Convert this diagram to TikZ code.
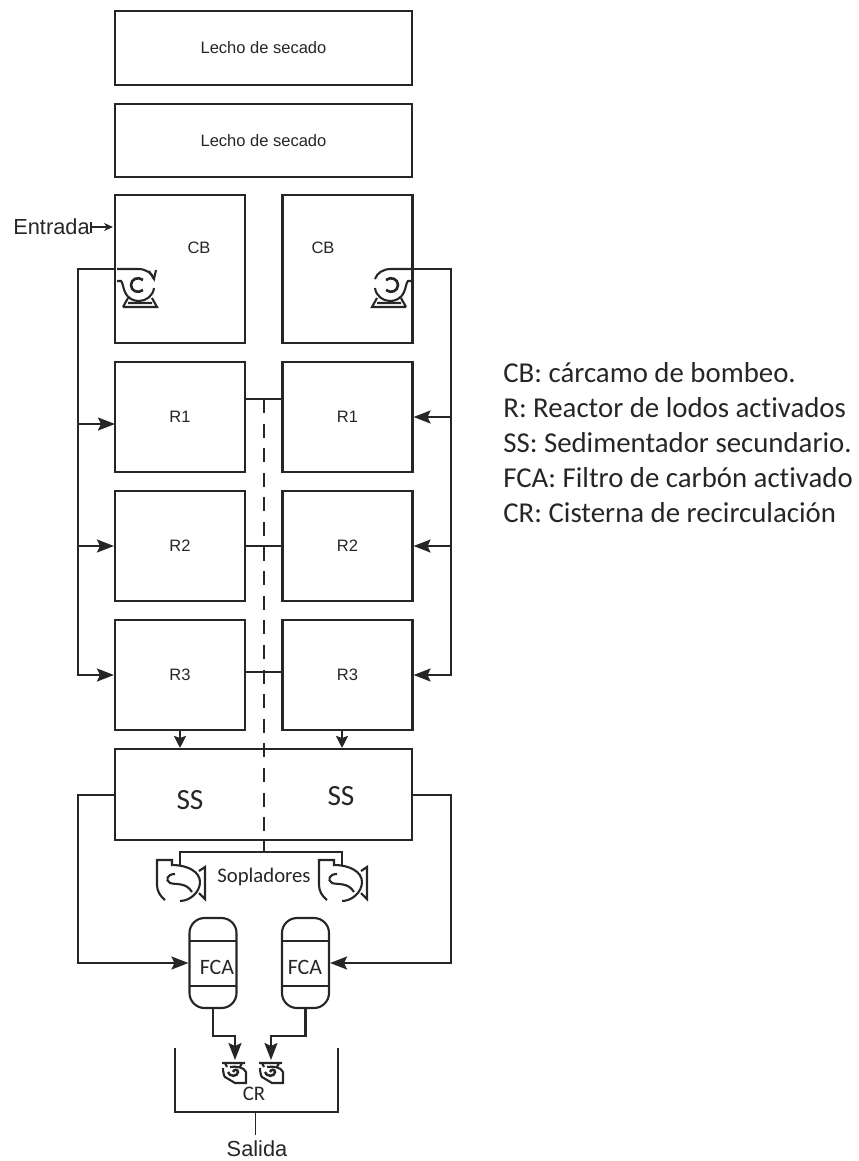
\documentclass[tikz,border=0pt]{standalone}
\usepackage{fontspec}
\setmainfont{Liberation Sans}
\newfontfamily\calibri[Ligatures=NoCommon]{Carlito}
\usetikzlibrary{arrows.meta}

\begin{document}
\begin{tikzpicture}[x=0.02cm, y=-0.02cm, >={Stealth[length=3.4mm,width=2.6mm,inset=0.6mm]},
    font=\fontsize{9.4}{11}\selectfont, color=black!85,
    wide/.style={draw, line width=1.2pt, minimum width=5.94cm, minimum height=1.47cm, inner sep=0pt},
    tank/.style={draw, line width=1.2pt, minimum width=2.6cm, minimum height=2.2cm, inner sep=0pt},
    filtro/.style={draw, line width=1.2pt, rounded corners=0.3cm, minimum width=0.94cm,
                   minimum height=1.8cm, inner sep=0pt},
    pipe/.style={line width=1.2pt},
    big/.style={font=\fontsize{12.4}{14}\selectfont},
    cal/.style={font=\calibri\fontsize{11.8}{14}\selectfont},
    calbig/.style={font=\calibri\fontsize{16.7}{18}\selectfont},
    calfca/.style={font=\calibri\fontsize{12.5}{14}\selectfont},
    legend/.style={anchor=base west, inner sep=0pt, font=\calibri\fontsize{16.4}{18}\selectfont},
    bomba/.pic={
      \draw[pipe] (-21,-16) -- (0,-16) .. controls (8,-16) and (14,-12) .. (16,-6);
      \draw[pipe] (-21,-4) -- (-17,-4) .. controls (-15,-2) and (-15,3) .. (-13,7)
                  .. controls (-10,14) and (-4,16) .. (1,16) .. controls (8,16) and (15,11) .. (16,3);
      \draw[line width=1.5pt] (5,-5) .. controls (0,-9) and (-7,-6) .. (-7,0) .. controls (-7,6) and (0,9) .. (5,5);
      \draw[pipe] (-15,22) -- (19,22) -- (14,13) (-15,22) -- (-10,13) (-10,18) -- (14,18);
    },
    soplador/.pic={
      \draw[pipe] (-15,18) .. controls (-20,14) and (-23,9) .. (-23,3) -- (-23,-22) -- (-8,-22) -- (-8,-17)
                  .. controls (8,-17) and (20,-10) .. (20,0) .. controls (20,10) and (10,19) .. (0,19);
      \draw[pipe] (-5,-8) .. controls (-13,-8) and (-15,-2) .. (-10,1) .. controls (-4,3) and (6,0) .. (12,10);
      \draw[pipe] (19,-11) -- (25,-15) -- (25,17) -- (19,11);
    },
    bombita/.pic={
      \draw[pipe] (-11,-9) -- (12,-9) (-8,-9) -- (-6,-5) (9,-9) -- (7,-5);
      \draw[pipe] (-10,-4) .. controls (-10,0) and (-9,4) .. (-8,5) -- (2,11) -- (13,11) -- (13,0)
                  .. controls (11,-5) and (3,-6) .. (-3,-5);
      \draw[line width=1.4pt] (-5,0) .. controls (-4,5) and (5,5) .. (5,0) .. controls (5,-3) and (1,-3) .. (0,0);
    }]
  \useasboundingbox (0,0) rectangle (859,1161);

  \node[wide] (lecho1) at (263.5,48)  {Lecho de secado};
  \node[wide] (lecho2) at (263.5,140.5) {Lecho de secado};

  \node[tank, minimum height=2.96cm] (CBl) at (180,269) {};
  \node[tank, minimum height=2.96cm] (CBr) at (347.5,269) {};
  \node[tank] (R1l) at (180,417) {R1};
  \node[tank] (R1r) at (347.5,417) {R1};
  \node[tank] (R2l) at (180,546) {R2};
  \node[tank] (R2r) at (347.5,546) {R2};
  \node[tank] (R3l) at (180,675) {R3};
  \node[tank] (R3r) at (347.5,675) {R3};
  \node[wide, minimum height=1.82cm] (SSbox) at (263.5,794.5) {};

  \node at (199,248) {CB};
  \node at (323,248) {CB};
  \node[calbig] at (190,800) {SS};
  \node[calbig] at (341,796) {SS};

  \node[big] (entrada) at (51.5,227) {Entrada};
  \coordinate (entCB) at (113,227);
  \draw[pipe, {Bar[width=2.2mm]}-{Stealth[length=1.8mm,width=1.6mm]}] (90,227) -- (entCB);

  \pic at (138,285) {bomba};
  \pic[xscale=-1] at (391,285) {bomba};
  \draw[pipe] (149,271) -- (154,279) -- (156,270);
  \coordinate (salL) at (115,269);
  \coordinate (salR) at (412,269);
  \coordinate (colL) at (78,269);
  \coordinate (colR) at (451,269);
  \coordinate (entR1l) at (115,424);
  \draw[pipe,->] (salL) -- (colL) |- (R3l.west);
  \draw[pipe,->] (salR) -- (colR) |- (R3r.east);
  \draw[pipe,->] (colL |- entR1l) -- (entR1l);
  \draw[pipe,->] (colL |- R2l.west) -- (R2l.west);
  \draw[pipe,->] (colR |- R1r.east) -- (R1r.east);
  \draw[pipe,->] (colR |- R2r.east) -- (R2r.east);

  \coordinate (aireR1) at (264,399);
  \coordinate (aireR3) at (264,672);
  \coordinate (aireS) at (264,852);
  \draw[pipe] (aireR1 -| R1l.east) -- (aireR1 -| R1r.west);
  \draw[pipe] (R2l.east) -- (R2r.west);
  \draw[pipe] (aireR3 -| R3l.east) -- (aireR3 -| R3r.west);
  \draw[line width=0.7pt, dash pattern=on 8pt off 6pt] (aireR1) -- (SSbox.south -| aireR1);
  \draw[pipe] (SSbox.south -| aireS) -- (aireS);

  \coordinate (salR3r) at (342,730);
  \draw[pipe,-{Stealth[length=2.4mm,width=2.4mm,inset=0.4mm]}] (R3l.south) -- (R3l.south |- SSbox.north);
  \draw[pipe,-{Stealth[length=2.4mm,width=2.4mm,inset=0.4mm]}] (salR3r) -- (salR3r |- SSbox.north);

  \pic at (180,882) {soplador};
  \pic at (342,882) {soplador};
  \coordinate (sopA) at (180,865);
  \coordinate (sopB) at (342,865);
  \draw[pipe] (sopA) -- ++(0,-13) -| (sopB);
  \node[cal] (sopladores) at (264,877) {Sopladores};

  \node[filtro] (FCAl) at (213,963) {};
  \node[filtro] (FCAr) at (305.5,963) {};
  \draw[pipe] (190,941) -- (236,941) (190,986) -- (236,986);
  \draw[pipe] (282,941) -- (329,941) (282,986) -- (329,986);
  \node[calfca] at (217,967) {FCA};
  \node[calfca] at (305,967) {FCA};

  \coordinate (salSSl) at (115,795);
  \coordinate (salSSr) at (412,795);
  \draw[pipe,->] (salSSl) -- ++(-37,0) |- (FCAl.west);
  \draw[pipe,->] (salSSr) -- ++(39,0) |- (FCAr.east);

  \coordinate (entA) at (235,1060);
  \coordinate (entB) at (271,1060);
  \draw[pipe,->] (FCAl.south) -- ++(0,27) -| (entA);
  \draw[pipe,->] (FCAr.south) -- ++(0,27) -| (entB);

  \pic at (233,1072) {bombita};
  \pic at (270,1072) {bombita};

  \coordinate (cisA) at (175,1048);
  \coordinate (cisB) at (338,1048);
  \coordinate (fondoCR) at (255,1112);
  \draw[pipe] (cisA) -- ++(0,64) -| (cisB);
  \node[cal] at (254,1094) {CR};
  \node[big] (salida) at (257,1149) {Salida};
  \draw (fondoCR) -- (fondoCR |- salida.north);

  \node[legend] at (503,382) {CB: cárcamo de bombeo.};
  \node[legend] at (503,417) {R: Reactor de lodos activados};
  \node[legend] at (503,452) {SS: Sedimentador secundario.};
  \node[legend] at (503,487) {FCA: Filtro de carbón activado};
  \node[legend] at (503,522) {CR: Cisterna de recirculación};
\end{tikzpicture}
\end{document}
